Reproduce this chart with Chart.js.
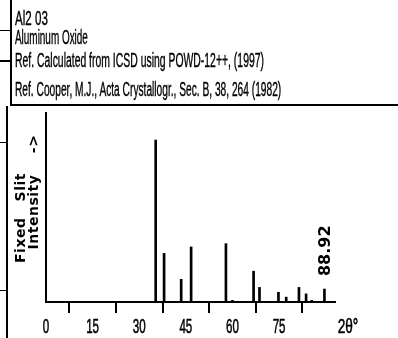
<!DOCTYPE html>
<html><head><meta charset="utf-8">
<script src="https://cdn.jsdelivr.net/npm/chart.js@4"></script>
<style>
html,body{margin:0;padding:0;background:#fff;}
#wrap{position:relative;width:398px;height:338px;overflow:hidden;background:#fff;}
canvas{position:absolute;left:0;top:0;}
.hl{position:absolute;left:15px;font-family:"Liberation Sans";font-size:20px;-webkit-text-stroke:0.4px #000;transform-origin:0 0;white-space:nowrap;color:#000;line-height:1;}
.ln{position:absolute;background:#000;}
.yl{position:absolute;font-family:"DejaVu Sans";font-weight:bold;font-size:14px;letter-spacing:0.5px;white-space:pre;color:#000;line-height:1;transform:translate(-50%,-50%) rotate(-90deg);}
</style></head>
<body><div id="wrap">
<canvas id="c" width="398" height="338"></canvas>
<div class="hl" data-w="33" style="top:8px">Al2 03</div>
<div class="hl" data-w="73" style="top:27px">Aluminum Oxide</div>
<div class="hl" data-w="249" style="top:50px">Ref. Calculated from ICSD using POWD-12++, (1997)</div>
<div class="hl" data-w="266" style="top:79px">Ref. Cooper, M.J., Acta Crystallogr., Sec. B, 38, 264 (1982)</div>
<div class="ln" style="left:10px;top:0;width:2px;height:106px"></div>
<div class="ln" style="left:11px;top:104px;width:387px;height:2px"></div>
<div class="ln" style="left:0;top:30px;width:11px;height:1px"></div>
<div class="ln" style="left:0;top:60px;width:11px;height:2px"></div>
<div class="ln" style="left:6px;top:106px;width:2px;height:232px"></div>
<div class="ln" style="left:0;top:142px;width:7px;height:1px"></div>
<div class="ln" style="left:0;top:290px;width:7px;height:1px"></div>
<div class="yl" style="left:20px;top:218px">Fixed   Slit</div>
<div class="yl" style="left:33px;top:192px">Intensity    -&gt;</div>
</div>
<script>
const peaks2Theta = [35.3, 38.0, 43.5, 46.7, 57.9, 60.0, 66.8, 68.7, 74.8, 77.3, 81.4, 83.7, 85.5, 89.6];
const intensities = [100, 30, 14, 34, 36, 1, 19, 9, 6, 3, 9, 5, 1, 8];
const tickLabels = [0, 15, 30, 45, 60, 75];
const axisTitle = "2θ°";
const annotationText = "88.92";
const annotationX = 88.92;
const annotationPeakY = 8;

document.querySelectorAll('.hl').forEach(el => {
  const w = el.offsetWidth;
  el.style.transform = 'scaleX(' + (parseFloat(el.dataset.w) / w) + ')';
});

const overlay = {
  id: 'overlay',
  afterDraw(chart) {
    const ctx = chart.ctx;
    const xs = chart.scales.x, ys = chart.scales.y;
    ctx.save();
    ctx.fillStyle = '#000';
    ctx.strokeStyle = '#000';
    ctx.lineWidth = 0.6;
    ctx.font = '21px "Liberation Sans"';
    ctx.textAlign = 'center';
    ctx.textBaseline = 'alphabetic';
    xs.ticks.forEach(t => {
      const px = xs.getPixelForValue(t.value);
      ctx.save();
      ctx.translate(px, 333);
      ctx.scale(0.55, 1);
      ctx.fillText(String(t.value), 0, 0);
      ctx.strokeText(String(t.value), 0, 0);
      ctx.restore();
    });
    ctx.save();
    ctx.translate(348, 333);
    ctx.scale(0.65, 1);
    ctx.fillText(axisTitle, 0, 0);
    ctx.strokeText(axisTitle, 0, 0);
    ctx.restore();
    ctx.save();
    ctx.font = 'bold 16px "DejaVu Sans"';
    ctx.translate(xs.getPixelForValue(annotationX) + 4, ys.getPixelForValue(annotationPeakY) - 13);
    ctx.rotate(-Math.PI / 2);
    ctx.textAlign = 'left';
    ctx.textBaseline = 'middle';
    ctx.fillText(annotationText, 0, 0);
    ctx.restore();
    ctx.restore();
  }
};

new Chart(document.getElementById('c'), {
  type: 'bar',
  data: {
    datasets: [{
      data: peaks2Theta.map((p, i) => ({x: p, y: intensities[i]})),
      backgroundColor: '#000',
      borderWidth: 0,
      barThickness: 2
    }]
  },
  options: {
    responsive: false,
    animation: false,
    devicePixelRatio: 1,
    layout: {padding: {left: 46, right: 63, top: 113, bottom: 0}},
    plugins: {legend: {display: false}, tooltip: {enabled: false}},
    scales: {
      x: {
        type: 'linear', min: 0, max: 93, offset: false,
        afterBuildTicks: s => { s.ticks = tickLabels.map(v => ({value: v})); },
        afterFit: s => { s.height = 36; },
        ticks: {display: false},
        grid: {drawOnChartArea: false, drawTicks: true, tickLength: 11, lineWidth: 2,
               color: c => (c.tick && c.tick.value === 0) ? 'rgba(0,0,0,0)' : '#000'},
        border: {display: true, color: '#000', width: 2}
      },
      y: {
        min: 0, max: 116.7,
        afterFit: s => { s.width = 0; },
        ticks: {display: false},
        grid: {display: false},
        border: {display: true, color: '#000', width: 2}
      }
    }
  },
  plugins: [overlay]
});
</script>
</body></html>
